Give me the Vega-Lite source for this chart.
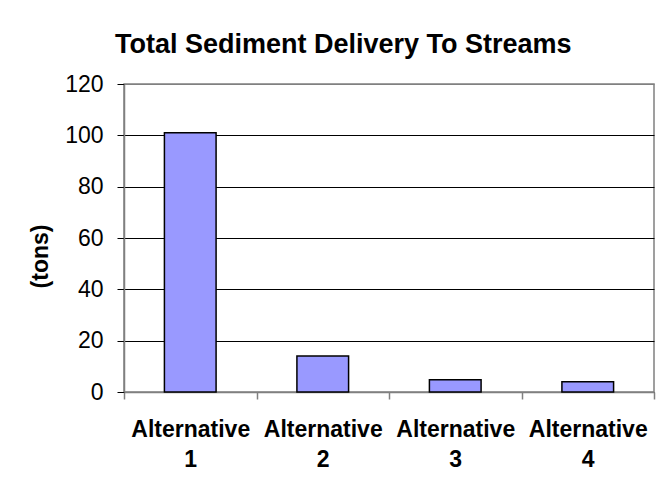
{
  "$schema": "https://vega.github.io/schema/vega-lite/v6.json",
  "autosize": {"type": "none"},
  "padding": {"left": 124, "top": 84, "right": 15, "bottom": 97},
  "width": 530,
  "height": 308,
  "background": "white",
  "title": {
    "text": "Total Sediment Delivery To Streams",
    "anchor": "start",
    "frame": "group",
    "font": "Liberation Sans",
    "fontSize": 27,
    "fontWeight": "bold",
    "color": "black",
    "baseline": "alphabetic",
    "dx": -9,
    "dy": 35,
    "offset": 28
  },
  "data": {
    "values": [
      {"alternative": "Alternative 1", "tons": 101},
      {"alternative": "Alternative 2", "tons": 14},
      {"alternative": "Alternative 3", "tons": 4.8},
      {"alternative": "Alternative 4", "tons": 4}
    ]
  },
  "mark": {"type": "bar", "fill": "#9999FF", "stroke": "black", "strokeWidth": 1.5, "width": {"band": 0.39}},
  "encoding": {
    "x": {
      "field": "alternative",
      "type": "nominal",
      "sort": null,
      "scale": {"paddingInner": 0, "paddingOuter": 0},
      "axis": {
        "title": null,
        "labelAngle": 0,
        "labelExpr": "datum.value ? split(datum.value, ' ') : ''",
        "labelFont": "Liberation Sans",
        "labelFontSize": 23,
        "labelFontWeight": "bold",
        "labelColor": "black",
        "labelLineHeight": 30,
        "labelPadding": 19,
        "labelBaseline": "top",
        "tickBand": "extent",
        "tickSize": 7,
        "tickColor": "#808080",
        "tickWidth": 1.5,
        "domainColor": "#808080",
        "domainWidth": 1.5,
        "grid": false
      }
    },
    "y": {
      "field": "tons",
      "type": "quantitative",
      "scale": {"domain": [0, 120], "nice": false},
      "axis": {
        "title": "(tons)",
        "titleFont": "Liberation Sans",
        "titleFontSize": 23,
        "titleFontWeight": "bold",
        "titleColor": "black",
        "titleAngle": -90,
        "titleX": -84,
        "titleY": 172,
        "titleAlign": "center",
        "titleBaseline": "middle",
        "values": [0, 20, 40, 60, 80, 100, 120],
        "labelFont": "Liberation Sans",
        "labelFontSize": 23,
        "labelColor": "black",
        "labelPadding": 14,
        "tickSize": 7,
        "tickColor": "black",
        "domainColor": "#808080",
        "domainWidth": 1.5,
        "grid": true,
        "gridColor": {"condition": {"test": "datum.value == 120", "value": "#808080"}, "value": "black"},
        "gridWidth": 1,
        "gridOpacity": 1
      }
    }
  },
  "config": {
    "view": {"stroke": "#808080", "strokeWidth": 1.5}
  }
}
